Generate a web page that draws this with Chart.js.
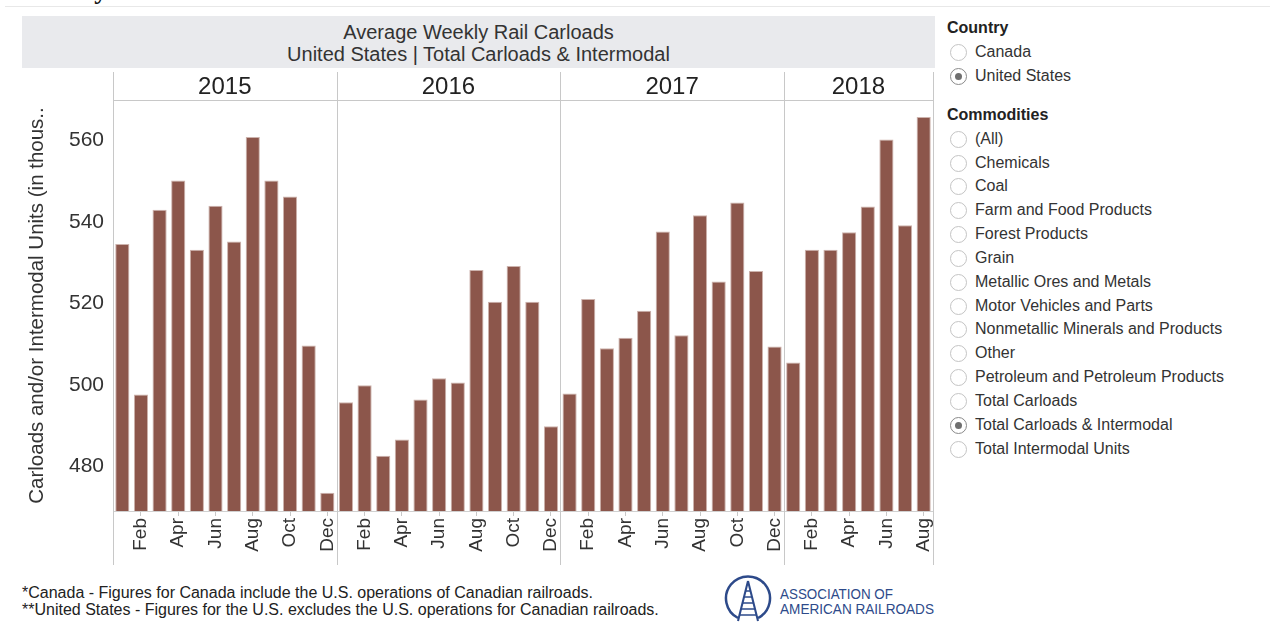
<!DOCTYPE html>
<html>
<head>
<meta charset="utf-8">
<script src="https://cdn.jsdelivr.net/npm/chart.js@4.4.0/dist/chart.umd.min.js"></script>
<style>
  body { margin:0; background:#fff; font-family:"Liberation Sans", Arial, sans-serif; color:#333; }
  #page { position:relative; width:1270px; height:631px; overflow:hidden; }
  #topTitle { position:absolute; left:25px; top:-24px; font:bold 26px "Liberation Serif", serif; color:#111; white-space:nowrap; }
  #topRule { position:absolute; left:5px; right:0; top:6px; height:1px; background:#e8e8e8; }
  #band { position:absolute; left:22px; top:16px; width:913px; height:52px; background:#e9eaed;
          text-align:center; font-size:20px; line-height:22px; color:#333; }
  #band div:first-child { margin-top:5px; }
  #chartBox { position:absolute; left:0; top:60px; width:940px; height:510px; }
  #panel { position:absolute; left:947px; top:16px; width:320px; font-size:16px; color:#333; }
  .head { font-weight:bold; color:#222; height:24px; line-height:24px; }
  .opt { position:relative; height:23.85px; line-height:24px; padding-left:28px; white-space:nowrap; }
  .opt i { position:absolute; left:3px; top:4px; width:15px; height:15px; border:1px solid #c4c4c4; border-radius:50%; background:#fff; }
  .opt.on i { border-color:#8a8a8a; }
  .opt.on i:after { content:""; position:absolute; left:4px; top:4px; width:7px; height:7px; border-radius:50%; background:#6f6f6f; }
  #notes { position:absolute; left:22px; top:585px; font-size:16px; line-height:16.5px; color:#222; white-space:nowrap; }
  #logo { position:absolute; left:724px; top:574px; }
</style>
</head>
<body>
<div id="page">
  <div id="topTitle">Weekly Rail Traffic Charts</div>
  <div id="topRule"></div>
  <div id="band"><div>Average Weekly Rail Carloads</div><div>United States | Total Carloads &amp; Intermodal</div></div>
  <div id="chartBox"><canvas id="chart"></canvas></div>
  <div id="panel"></div>
  <div id="notes">*Canada - Figures for Canada include the U.S. operations of Canadian railroads.<br>**United States - Figures for the U.S. excludes the U.S. operations for Canadian railroads.</div>
  <svg id="logo" width="215" height="52" viewBox="0 0 215 52">
    <path d="M14 44 A22 22 0 1 1 34 44" fill="none" stroke="#2d4a8a" stroke-width="2.5"/>
    <line x1="24" y1="7" x2="14" y2="47" stroke="#2d4a8a" stroke-width="2"/>
    <line x1="24" y1="7" x2="34" y2="47" stroke="#2d4a8a" stroke-width="2"/>
    <line x1="21" y1="17" x2="27" y2="17" stroke="#2d4a8a" stroke-width="1.5"/>
    <line x1="20" y1="23" x2="28" y2="23" stroke="#2d4a8a" stroke-width="1.5"/>
    <line x1="18" y1="29" x2="30" y2="29" stroke="#2d4a8a" stroke-width="1.5"/>
    <line x1="17" y1="35" x2="31" y2="35" stroke="#2d4a8a" stroke-width="1.5"/>
    <line x1="15" y1="41" x2="33" y2="41" stroke="#2d4a8a" stroke-width="1.5"/>
    <text x="56" y="25" font-family="Liberation Sans Narrow, Liberation Sans, Arial" font-size="15" fill="#2d4a8a" textLength="113" lengthAdjust="spacingAndGlyphs">ASSOCIATION OF</text>
    <text x="56" y="40" font-family="Liberation Sans Narrow, Liberation Sans, Arial" font-size="15" fill="#2d4a8a" textLength="154" lengthAdjust="spacingAndGlyphs">AMERICAN RAILROADS</text>
  </svg>
</div>

<script>
// average weekly carloads + intermodal units, thousands
var years = ["2015", "2016", "2017", "2018"];
var months = ["Jan","Feb","Mar","Apr","May","Jun","Jul","Aug","Sep","Oct","Nov","Dec"];
var us2015 = [534.6, 497.6, 543.0, 550.2, 533.2, 544.0, 535.2, 560.9, 550.2, 546.3, 509.7, 473.5];
var us2016 = [495.7, 499.9, 482.6, 486.6, 496.4, 501.6, 500.6, 528.2, 520.4, 529.2, 520.4, 489.8];
var us2017 = [497.9, 521.1, 509.0, 511.6, 518.2, 537.7, 512.2, 541.7, 525.4, 544.8, 528.0, 509.4];
var us2018 = [505.5, 533.2, 533.2, 537.5, 543.8, 560.3, 539.2, 565.8];
var yTicks = [480, 500, 520, 540, 560];

var countries = ["Canada", "United States"];
var commodities = ["(All)", "Chemicals", "Coal", "Farm and Food Products", "Forest Products", "Grain",
  "Metallic Ores and Metals", "Motor Vehicles and Parts", "Nonmetallic Minerals and Products", "Other",
  "Petroleum and Petroleum Products", "Total Carloads", "Total Carloads & Intermodal", "Total Intermodal Units"];

// legend / filter panel
var panel = document.getElementById("panel");
function addHead(txt, mt) {
  var d = document.createElement("div");
  d.className = "head"; d.textContent = txt; d.style.marginTop = mt + "px";
  panel.appendChild(d);
}
function addOpt(txt, on) {
  var d = document.createElement("div");
  d.className = "opt" + (on ? " on" : "");
  d.innerHTML = "<i></i>";
  d.appendChild(document.createTextNode(txt));
  panel.appendChild(d);
}
addHead("Country", 0);
countries.forEach(function(c) { addOpt(c, c == "United States"); });
addHead("Commodities", 15);
commodities.forEach(function(c) { addOpt(c, c == "Total Carloads & Intermodal"); });

// flatten into one category axis
var labels = [], values = [], yearStart = [];
var series = [us2015, us2016, us2017, us2018];
for (var y = 0; y < series.length; y++) {
  yearStart.push(labels.length);
  for (var m = 0; m < series[y].length; m++) {
    labels.push(months[m]);
    values.push(series[y][m]);
  }
}

var font = "'Liberation Sans', Arial, sans-serif";

var panels = {
  id: "panels",
  afterDraw: function(chart) {
    var ctx = chart.ctx, xs = chart.scales.x, area = chart.chartArea;
    var step = xs.getPixelForValue(1) - xs.getPixelForValue(0);
    var top = area.top - 28, bottom = area.bottom + 54;
    ctx.save();
    ctx.strokeStyle = "#c8c8c8";
    ctx.lineWidth = 1;
    var edges = [];
    for (var i = 0; i < yearStart.length; i++) edges.push(xs.getPixelForValue(yearStart[i]) - step / 2);
    edges.push(xs.getPixelForValue(labels.length - 1) + step / 2);
    ctx.beginPath();
    edges.forEach(function(e) {
      var px = Math.round(e) + 0.5;
      ctx.moveTo(px, top); ctx.lineTo(px, bottom);
    });
    ctx.moveTo(edges[0], Math.round(area.top) + 0.5);
    ctx.lineTo(edges[edges.length - 1], Math.round(area.top) + 0.5);
    ctx.stroke();
    ctx.fillStyle = "#222";
    ctx.font = "24px " + font;
    ctx.textAlign = "center";
    ctx.textBaseline = "middle";
    for (var j = 0; j < years.length; j++) {
      ctx.fillText(years[j], (edges[j] + edges[j + 1]) / 2, area.top - 13);
    }
    ctx.restore();
  }
};

var chart = new Chart(document.getElementById("chart"), {
  type: "bar",
  data: {
    labels: labels,
    datasets: [{
      label: "Carloads & Intermodal",
      data: values,
      backgroundColor: "#8c564b",
      borderColor: "#cdb3ad",
      borderWidth: 1,
      barPercentage: 0.76,
      categoryPercentage: 1
    }]
  },
  options: {
    responsive: true,
    maintainAspectRatio: false,
    animation: false,
    layout: { padding: { left: 0, right: 7, top: 40, bottom: 0 } },
    plugins: { legend: { display: false }, tooltip: { enabled: false } },
    scales: {
      x: {
        afterFit: function(s) { s.height = 59; s.paddingLeft = 0; s.paddingRight = 0; },
        grid: {
          offset: false,
          drawOnChartArea: false,
          tickLength: 5,
          color: function(c) { return c.index % 2 == 1 ? "#c8c8c8" : "rgba(0,0,0,0)"; }
        },
        border: { display: true, color: "#d0d0d0" },
        ticks: {
          autoSkip: false,
          minRotation: 90,
          maxRotation: 90,
          padding: 2,
          color: "#333",
          font: { family: font, size: 19 },
          callback: function(v, i) { return i % 2 == 1 ? labels[i] : ""; }
        }
      },
      y: {
        min: 469,
        max: 570,
        afterFit: function(s) { s.width = 113; },
        afterBuildTicks: function(s) { s.ticks = yTicks.map(function(v) { return { value: v }; }); },
        grid: { display: false, drawTicks: false },
        border: { display: false },
        ticks: { padding: 9, color: "#333", font: { family: font, size: 21 } },
        title: {
          display: true,
          text: "Carloads and/or Intermodal Units (in thous..",
          color: "#333",
          font: { family: font, size: 20.5 },
          padding: { top: 25 }
        }
      }
    }
  },
  plugins: [panels]
});
</script>
</body>
</html>
